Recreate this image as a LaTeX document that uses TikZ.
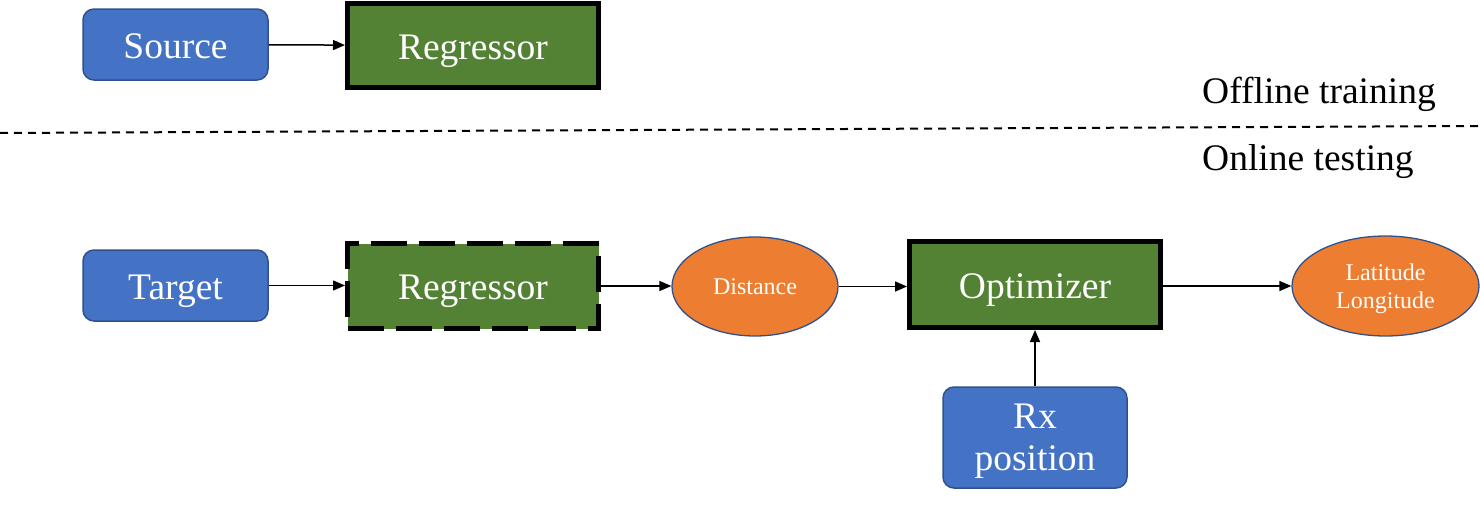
\documentclass[tikz,border=0pt]{standalone}
\usepackage{fontspec}
\setmainfont{Liberation Serif}
\usetikzlibrary{shapes.geometric,arrows.meta}
\definecolor{boxblue}{HTML}{4472C4}
\definecolor{blueedge}{HTML}{2F528F}
\definecolor{boxgreen}{HTML}{548235}
\definecolor{ellorange}{HTML}{ED7D31}
\tikzset{
  bigtext/.style={font=\fontsize{37.5}{42}\selectfont},
  oneline/.style={text height=27pt, text depth=0pt},
  inbox/.style={bigtext, rounded corners=11pt, fill=boxblue, draw=blueedge, line width=1.5pt, text=white, inner sep=0pt, align=center},
  greenbox/.style={bigtext, oneline, fill=boxgreen, draw=black, line width=5pt, text=white, inner sep=0pt, minimum width=251pt},
  oval/.style={ellipse, fill=ellorange, draw=blueedge, line width=1.3pt, text=white, inner sep=0pt, align=center, font=\fontsize{24}{28}\selectfont},
  arr/.style={line width=1.5pt, -{Triangle[length=12pt,width=10pt]}},
}
\begin{document}
\begin{tikzpicture}[x=1pt,y=-1pt]
\useasboundingbox (0,0) rectangle (1480,506);
% top row
\node[inbox, oneline, minimum width=185pt, minimum height=71pt] (src) at (175.5,44.5) {Source};
\node[greenbox, minimum height=84pt] (reg1) at (473,45.5) {Regressor};
\draw[arr] (src) -- (reg1);
% separator
\coordinate (sepL) at (0,133);
\coordinate (sepR) at (1480,126);
\draw[line width=2pt, dash pattern=on 8pt off 6pt] (sepL) -- (sepR);
\node[bigtext, anchor=west, inner sep=0pt] (off) at (1202,94) {Offline training};
\node[bigtext, anchor=west, inner sep=0pt] (on) at (1202,162) {Online testing};
% bottom row
\node[inbox, oneline, minimum width=185pt, minimum height=71pt] (tgt) at (175.5,285.5) {Target};
\node[greenbox, minimum height=85pt, dash pattern=on 36pt off 12pt] (reg2) at (473,286) {Regressor};
\node[oval, minimum width=166pt, minimum height=99pt] (dist) at (755,286.5) {Distance};
\node[greenbox, minimum height=86pt] (opt) at (1035,284.5) {Optimizer};
\node[oval, text depth=0pt, minimum width=187pt, minimum height=100pt] (ll) at (1385.5,286) {Latitude\\Longitude};
\node[inbox, text depth=0pt, minimum width=184pt, minimum height=101pt] (rx) at (1035,437.5) {Rx\\position};
\draw[arr] (tgt.east) -- (tgt.east -| reg2.west);
\draw[arr] (reg2.east) -- (reg2.east -| dist.west);
\draw[arr] (dist.east) -- (dist.east -| opt.west);
\draw[arr] (ll.west -| opt.east) -- (ll.west);
\draw[arr] (rx.north) -- (opt.south);
\end{tikzpicture}
\end{document}
